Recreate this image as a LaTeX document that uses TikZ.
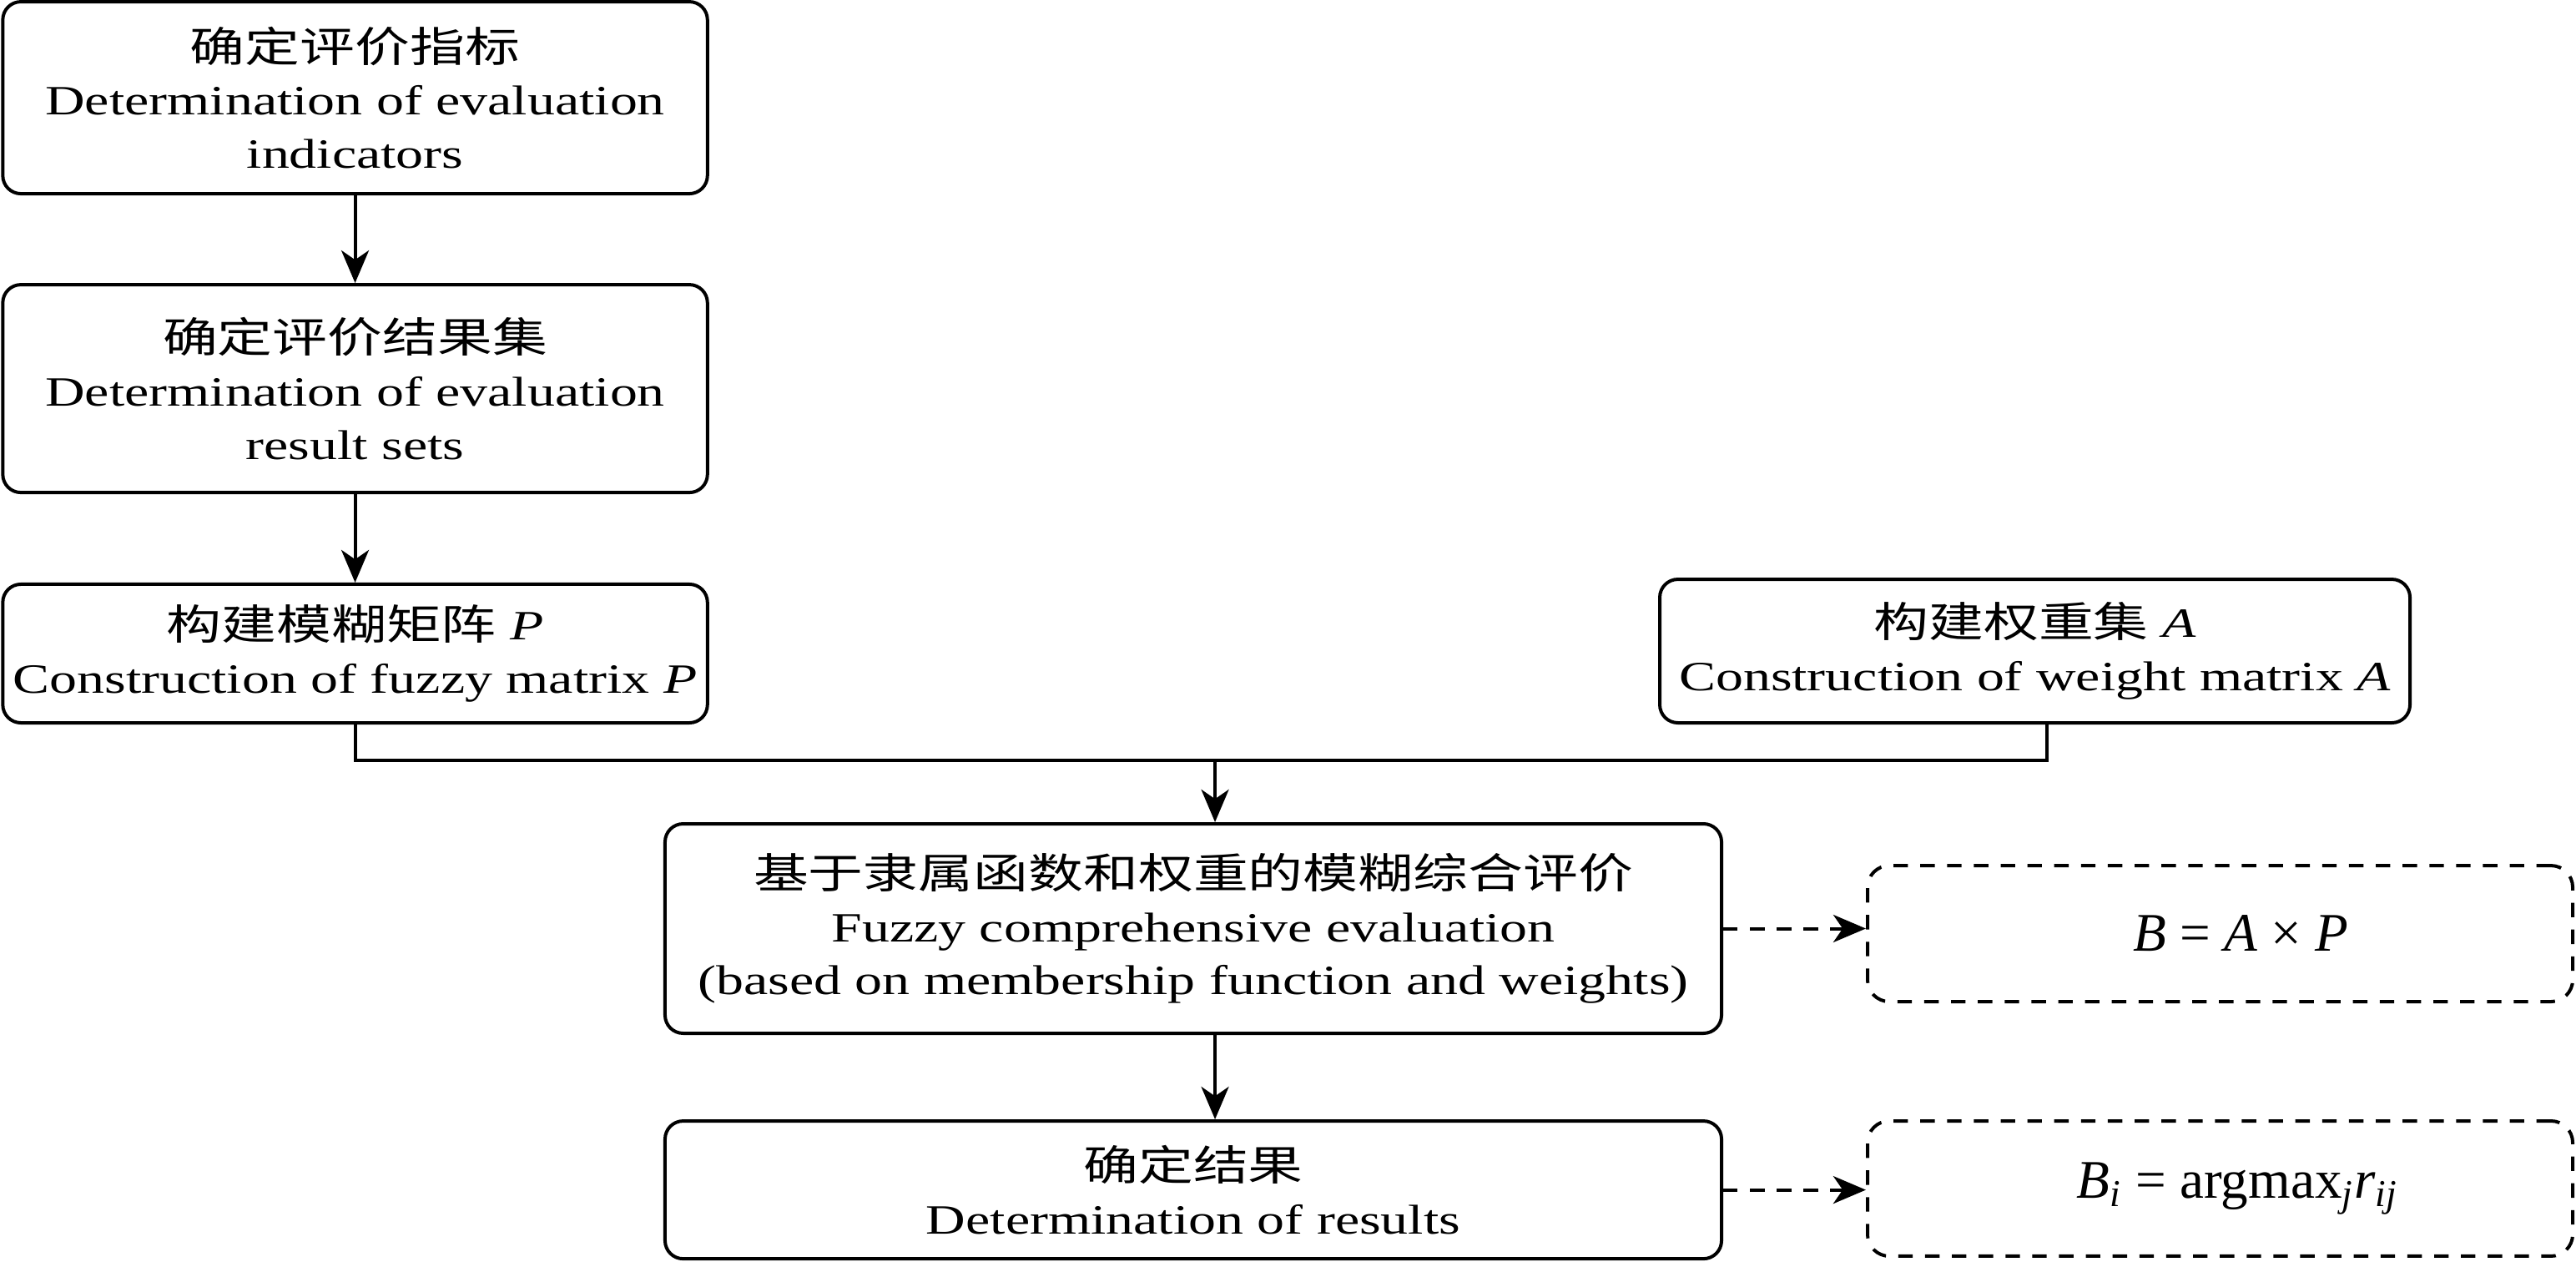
\documentclass[tikz,border=0pt]{standalone}
\usepackage{fontspec}
\setmainfont[FakeStretch=1.32]{Liberation Serif}
\newfontfamily\cjk[FakeStretch=1.32]{Noto Sans CJK SC}
\newfontfamily\eqfont{Liberation Serif}
\usetikzlibrary{arrows.meta}
\begin{document}
\begin{tikzpicture}[
                        every node/.style={font=\fontsize{11.5}{14.7}\selectfont, align=center, inner sep=0pt},
                        stage/.style={draw, line width=0.92pt, rounded corners=5pt},
                        formula/.style={draw, line width=0.92pt, rounded corners=6pt, dash pattern=on 4pt off 3.4pt, font=\eqfont\fontsize{15}{18}\selectfont},
                        flow/.style={-{Stealth[length=9pt,width=7.6pt,inset=2.6pt]}, line width=0.92pt},
                        link/.style={line width=0.92pt},
                        hint/.style={flow, dash pattern=on 4pt off 3.4pt}
                    ]
                        \useasboundingbox (0,0) rectangle (25.0047,-12.2391);
                        \node[stage, minimum width=6.84cm, minimum height=1.863cm] (ind) at (3.447,-0.948) {{\cjk 确定评价指标}\\Determination of evaluation\\indicators};
                        \node[stage, minimum width=6.84cm, minimum height=2.017cm] (res) at (3.447,-3.771) {{\cjk 确定评价结果集}\\Determination of evaluation\\result sets};
                        \node[stage, minimum width=6.84cm, minimum height=1.345cm] (mtx) at (3.447,-6.342) {{\cjk 构建模糊矩阵} \textit{P}\\Construction of fuzzy matrix \textit{P}};
                        \node[stage, minimum width=7.282cm, minimum height=1.393cm] (wgt) at (19.752,-6.318) {{\cjk 构建权重集} \textit{A}\\Construction of weight matrix \textit{A}};
                        \node[stage, minimum width=10.255cm, minimum height=2.033cm] (fce) at (11.583,-9.011) {{\cjk 基于隶属函数和权重的模糊综合评价}\\Fuzzy comprehensive evaluation\\(based on membership function and weights)};
                        \node[stage, minimum width=10.255cm, minimum height=1.337cm] (det) at (11.583,-11.547) {{\cjk 确定结果}\\Determination of results};
                        \node[formula, minimum width=6.845cm, minimum height=1.32cm] (bap) at (21.55,-9.06) {\hspace*{0.4cm}\raisebox{-0.09cm}{\textit{B} = \textit{A} × \textit{P}}};
                        \node[formula, minimum width=6.845cm, minimum height=1.312cm] (arg) at (21.55,-11.534) {\hspace*{0.34cm}\textit{B}\textsubscript{\textit{i}} = argmax\textsubscript{\textit{j}}\textit{r}\textsubscript{\textit{ij}}};
                        \coordinate (join) at (11.794,-7.379);
                        \draw[flow] (ind) -- (res);
                        \draw[flow] (res) -- (mtx);
                        \draw[link] (mtx.south) |- (join);
                        \draw[link] ([xshift=0.12cm]wgt.south) |- (join);
                        \draw[flow] (join) -- (join |- fce.north);
                        \draw[flow] (fce.south -| join) -- (det.north -| join);
                        \draw[hint] (fce.east) -- (fce.east -| bap.west);
                        \draw[hint] (det.east) -- (det.east -| arg.west);
                    \end{tikzpicture}
\end{document}
